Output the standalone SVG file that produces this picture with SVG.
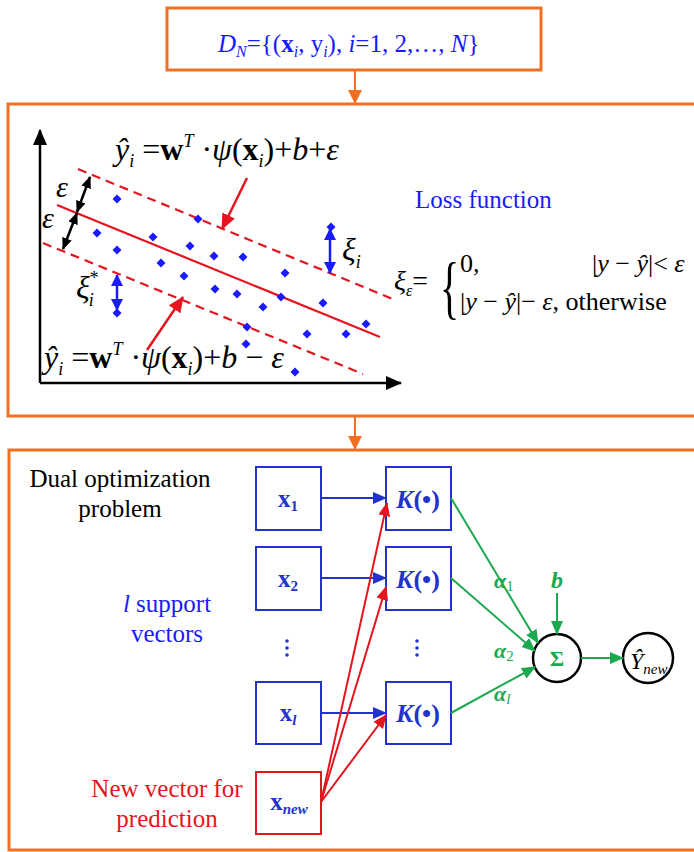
<svg xmlns="http://www.w3.org/2000/svg" width="694" height="852" viewBox="0 0 694 852" font-family="'Liberation Serif', Tinos, 'Times New Roman', 'Noto Serif', 'DejaVu Serif', serif">
<style>
.t{font-family:"Liberation Serif",Tinos,"Times New Roman","Noto Serif","DejaVu Serif",serif;}
.frame{fill:#fff;stroke:#F07022;stroke-width:3;}
.bx{fill:#fff;stroke:#2233CC;stroke-width:2;}
.rbx{fill:#fff;stroke:#E5141E;stroke-width:2;}
.circ{fill:#fff;stroke:#000;stroke-width:2.5;}
.or{stroke:#F07022;stroke-width:2;fill:none;}
.bl{stroke:#2233CC;stroke-width:2;fill:none;}
.rd{stroke:#E5141E;stroke-width:2;fill:none;}
.gr{stroke:#1BA84F;stroke-width:2;fill:none;}
.bk{stroke:#000;stroke-width:2.5;fill:none;}
.dash{stroke:#E5141E;stroke-width:2.2;fill:none;stroke-dasharray:9 6;}
.dot{fill:#1a1aff;}
</style>
<defs>
<marker id="ao" markerWidth="14" markerHeight="14" refX="13" refY="7" orient="auto" markerUnits="userSpaceOnUse"><path d="M0,0 L14,7 L0,14 Z" fill="#F07022"/></marker>
<marker id="ab" markerWidth="14" markerHeight="12" refX="13" refY="6" orient="auto" markerUnits="userSpaceOnUse"><path d="M0,0 L14,6 L0,12 Z" fill="#2233CC"/></marker>
<marker id="ar" markerWidth="14" markerHeight="12" refX="13" refY="6" orient="auto" markerUnits="userSpaceOnUse"><path d="M0,0 L14,6 L0,12 Z" fill="#E5141E"/></marker>
<marker id="ag" markerWidth="14" markerHeight="12" refX="13" refY="6" orient="auto" markerUnits="userSpaceOnUse"><path d="M0,0 L14,6 L0,12 Z" fill="#1BA84F"/></marker>
<marker id="ak" markerWidth="16" markerHeight="14" refX="15" refY="7" orient="auto" markerUnits="userSpaceOnUse"><path d="M0,0 L16,7 L0,14 Z" fill="#000"/></marker>
<marker id="ak2" markerWidth="12" markerHeight="10" refX="11" refY="5" orient="auto-start-reverse" markerUnits="userSpaceOnUse"><path d="M0,0 L12,5 L0,10 Z" fill="#000"/></marker>
<marker id="ab2" markerWidth="12" markerHeight="12" refX="11" refY="6" orient="auto-start-reverse" markerUnits="userSpaceOnUse"><path d="M0,0 L12,6 L0,12 Z" fill="#1a1aff"/></marker>
<marker id="arp" markerWidth="16" markerHeight="14" refX="15" refY="7" orient="auto" markerUnits="userSpaceOnUse"><path d="M0,0 L16,7 L0,14 Z" fill="#E5141E"/></marker>
<path id="d" d="M0,-4.5 L4.5,0 L0,4.5 L-4.5,0 Z"/>
</defs>

<g id="dataset">
<rect class="frame" x="167" y="8" width="374" height="62"/>
<text class="t" x="218" y="52" fill="#1a1aff" font-size="25"><tspan font-style="italic">D</tspan><tspan font-style="italic" font-size="16" dy="5">N</tspan><tspan dy="-5">={(</tspan><tspan font-weight="bold">x</tspan><tspan font-style="italic" font-size="16" dy="5">i</tspan><tspan dy="-5">, y</tspan><tspan font-style="italic" font-size="16" dy="5">i</tspan><tspan dy="-5">), </tspan><tspan font-style="italic">i</tspan><tspan>=1, 2,…, </tspan><tspan font-style="italic">N</tspan><tspan>}</tspan></text>
</g>

<g id="svr-panel">
<rect class="frame" x="8" y="104" width="700" height="312"/>
<line class="bk" x1="40" y1="383" x2="40" y2="130" marker-end="url(#ak)"/>
<line class="bk" x1="40" y1="383" x2="401" y2="383" marker-end="url(#ak)"/>
<line stroke="#E5141E" stroke-width="2.2" x1="57" y1="205" x2="380" y2="337"/>
<line class="dash" x1="78" y1="169" x2="395" y2="300"/>
<line class="dash" x1="43" y1="243" x2="363" y2="374"/>
<g class="dot">
<use href="#d" x="117" y="199"/><use href="#d" x="198" y="219"/><use href="#d" x="97" y="233"/>
<use href="#d" x="153" y="237"/><use href="#d" x="117" y="250"/><use href="#d" x="190" y="246"/>
<use href="#d" x="214" y="256"/><use href="#d" x="243" y="257"/><use href="#d" x="161" y="263"/>
<use href="#d" x="184" y="276"/><use href="#d" x="285" y="273"/><use href="#d" x="215" y="289"/>
<use href="#d" x="237" y="294"/><use href="#d" x="281" y="297"/><use href="#d" x="323" y="303"/>
<use href="#d" x="263" y="307"/><use href="#d" x="366" y="324"/><use href="#d" x="247" y="327"/>
<use href="#d" x="307" y="334"/><use href="#d" x="346" y="334"/><use href="#d" x="246" y="344"/>
<use href="#d" x="295" y="372"/><use href="#d" x="117" y="313"/><use href="#d" x="331" y="227"/>
</g>
<line stroke="#000" stroke-width="2.5" x1="90" y1="177" x2="77" y2="212" marker-start="url(#ak2)" marker-end="url(#ak2)"/>
<line stroke="#000" stroke-width="2.5" x1="77" y1="213" x2="63" y2="249" marker-start="url(#ak2)" marker-end="url(#ak2)"/>
<text class="t" x="56" y="197" font-size="30" font-style="italic">ε</text>
<text class="t" x="42" y="228" font-size="30" font-style="italic">ε</text>
<line stroke="#1a1aff" stroke-width="2.5" x1="330" y1="229" x2="330" y2="273" marker-start="url(#ab2)" marker-end="url(#ab2)"/>
<line stroke="#1a1aff" stroke-width="2.5" x1="117" y1="275" x2="117" y2="310" marker-start="url(#ab2)" marker-end="url(#ab2)"/>
<text class="t" x="342" y="260" font-size="32" font-style="italic">ξ<tspan font-size="18" dy="8">i</tspan></text>
<text class="t" x="76" y="298" font-size="32" font-style="italic">ξ<tspan font-size="18" dx="-1" dy="-14">*</tspan><tspan font-size="18" dx="-9" dy="22">i</tspan></text>
<line stroke="#E5141E" stroke-width="2.5" x1="247" y1="178" x2="222" y2="229" marker-end="url(#arp)"/>
<line stroke="#E5141E" stroke-width="2.5" x1="147" y1="350" x2="183" y2="297" marker-end="url(#arp)"/>
<text class="t" x="115" y="160" font-size="32"><tspan font-style="italic">ŷ</tspan><tspan font-style="italic" font-size="18" dy="7">i</tspan><tspan dy="-7"> =</tspan><tspan font-weight="bold">w</tspan><tspan font-style="italic" font-size="18" dy="-13">T</tspan><tspan dy="13"> ·</tspan><tspan font-style="italic">ψ</tspan><tspan>(</tspan><tspan font-weight="bold">x</tspan><tspan font-style="italic" font-size="18" dy="7">i</tspan><tspan dy="-7">)+</tspan><tspan font-style="italic">b</tspan><tspan>+</tspan><tspan font-style="italic">ε</tspan></text>
<text class="t" x="44" y="368" font-size="32"><tspan font-style="italic">ŷ</tspan><tspan font-style="italic" font-size="18" dy="7">i</tspan><tspan dy="-7"> =</tspan><tspan font-weight="bold">w</tspan><tspan font-style="italic" font-size="18" dy="-13">T</tspan><tspan dy="13">  ·</tspan><tspan font-style="italic">ψ</tspan><tspan>(</tspan><tspan font-weight="bold">x</tspan><tspan font-style="italic" font-size="18" dy="7">i</tspan><tspan dy="-7">)+</tspan><tspan font-style="italic">b</tspan><tspan> − </tspan><tspan font-style="italic">ε</tspan></text>
<text class="t" x="415" y="208" font-size="25" fill="#1a1aff">Loss function</text>
<text class="t" x="394" y="290" font-size="28" font-style="italic">ξ<tspan font-size="16" dy="6">ε</tspan><tspan font-style="normal" dy="-6">=</tspan></text>
<text class="t" transform="translate(440,311) scale(1,1.75)" font-size="40">{</text>
<text class="t" x="460" y="272" font-size="26">0,</text>
<text class="t" x="592" y="272" font-size="26">|<tspan font-style="italic">y</tspan> − <tspan font-style="italic">ŷ</tspan>|&lt; <tspan font-style="italic">ε</tspan></text>
<text class="t" x="460" y="310" font-size="26">|<tspan font-style="italic">y</tspan> − <tspan font-style="italic">ŷ</tspan>|− <tspan font-style="italic">ε</tspan>, otherwise</text>
</g>

<g id="dual-panel">
<rect class="frame" x="9" y="450" width="700" height="400"/>
<text class="t" x="120" y="487" font-size="25" text-anchor="middle">Dual optimization</text>
<text class="t" x="120" y="517" font-size="25" text-anchor="middle">problem</text>
<text class="t" x="167" y="612" font-size="25" text-anchor="middle" fill="#1a1aff"><tspan font-style="italic">l</tspan> support</text>
<text class="t" x="167" y="642" font-size="25" text-anchor="middle" fill="#1a1aff">vectors</text>
<text class="t" x="167" y="797" font-size="25" text-anchor="middle" fill="#E5141E">New vector for</text>
<text class="t" x="167" y="827" font-size="25" text-anchor="middle" fill="#E5141E">prediction</text>
</g>

<g id="x1"><rect class="bx" x="256" y="467" width="65" height="63"/><text class="t" x="288" y="507" font-size="25" font-weight="bold" fill="#2233CC" text-anchor="middle">x<tspan font-size="15" dy="4">1</tspan></text></g>
<g id="x2"><rect class="bx" x="256" y="547" width="65" height="63"/><text class="t" x="288" y="587" font-size="25" font-weight="bold" fill="#2233CC" text-anchor="middle">x<tspan font-size="15" dy="4">2</tspan></text></g>
<g id="xl"><rect class="bx" x="256" y="682" width="65" height="62"/><text class="t" x="288" y="721" font-size="25" font-weight="bold" fill="#2233CC" text-anchor="middle">x<tspan font-size="15" font-style="italic" dy="4">l</tspan></text></g>
<g id="xnew"><rect class="rbx" x="256" y="772" width="65" height="62"/><text class="t" x="289" y="810" font-size="25" font-weight="bold" fill="#2233CC" text-anchor="middle">x<tspan font-size="15" font-style="italic" dy="4">new</tspan></text></g>
<g id="vdots1" fill="#2233CC"><circle cx="287" cy="641" r="1.8"/><circle cx="287" cy="648" r="1.8"/><circle cx="287" cy="655" r="1.8"/></g>

<g id="k1"><rect class="bx" x="386" y="467" width="65" height="63"/><text class="t" x="418" y="508" font-size="26" font-weight="bold" fill="#2233CC" text-anchor="middle"><tspan font-style="italic">K</tspan>(•)</text></g>
<g id="k2"><rect class="bx" x="386" y="547" width="65" height="63"/><text class="t" x="418" y="588" font-size="26" font-weight="bold" fill="#2233CC" text-anchor="middle"><tspan font-style="italic">K</tspan>(•)</text></g>
<g id="kl"><rect class="bx" x="386" y="682" width="65" height="62"/><text class="t" x="418" y="722" font-size="26" font-weight="bold" fill="#2233CC" text-anchor="middle"><tspan font-style="italic">K</tspan>(•)</text></g>
<g id="vdots2" fill="#2233CC"><circle cx="417" cy="641" r="1.8"/><circle cx="417" cy="648" r="1.8"/><circle cx="417" cy="655" r="1.8"/></g>

<g id="sum"><circle class="circ" cx="557" cy="658" r="24"/><text class="t" x="557" y="666" font-size="22" font-weight="bold" fill="#1BA84F" text-anchor="middle">Σ</text></g>
<g id="yhat"><circle class="circ" cx="648" cy="658" r="25"/><text class="t" x="630" y="669" font-size="24" font-style="italic">Ŷ<tspan font-size="15" dy="5">new</tspan></text></g>
<g id="labels">
<text class="t" x="557" y="588" font-size="24" font-weight="bold" font-style="italic" fill="#1BA84F" text-anchor="middle">b</text>
<text class="t" x="494" y="588" font-size="22" font-weight="bold" font-style="italic" fill="#1BA84F">α<tspan font-size="15" font-weight="normal" font-style="normal" dy="3">1</tspan></text>
<text class="t" x="494" y="658" font-size="22" font-weight="bold" font-style="italic" fill="#1BA84F">α<tspan font-size="15" font-weight="normal" font-style="normal" dy="3">2</tspan></text>
<text class="t" x="494" y="701" font-size="22" font-weight="bold" font-style="italic" fill="#1BA84F">α<tspan font-size="15" font-weight="normal" dy="3">l</tspan></text>
</g>

<g id="connectors">
<line class="or" x1="355" y1="70" x2="355" y2="103" marker-end="url(#ao)"/>
<line class="or" x1="355" y1="416" x2="355" y2="449" marker-end="url(#ao)"/>
<line class="bl" x1="321" y1="498" x2="386" y2="498" marker-end="url(#ab)"/>
<line class="bl" x1="321" y1="578" x2="386" y2="578" marker-end="url(#ab)"/>
<line class="bl" x1="321" y1="713" x2="386" y2="713" marker-end="url(#ab)"/>
<line class="rd" x1="321" y1="802" x2="387" y2="503" marker-end="url(#ar)"/>
<line class="rd" x1="321" y1="802" x2="386" y2="587" marker-end="url(#ar)"/>
<line class="rd" x1="321" y1="802" x2="386" y2="715" marker-end="url(#ar)"/>
<line class="gr" x1="451" y1="498" x2="538" y2="643" marker-end="url(#ag)"/>
<line class="gr" x1="451" y1="578" x2="535" y2="651" marker-end="url(#ag)"/>
<line class="gr" x1="451" y1="713" x2="535" y2="667" marker-end="url(#ag)"/>
<line class="gr" x1="557" y1="593" x2="557" y2="634" marker-end="url(#ag)"/>
<line class="gr" x1="581" y1="658" x2="623" y2="658" marker-end="url(#ag)"/>
</g>
</svg>
